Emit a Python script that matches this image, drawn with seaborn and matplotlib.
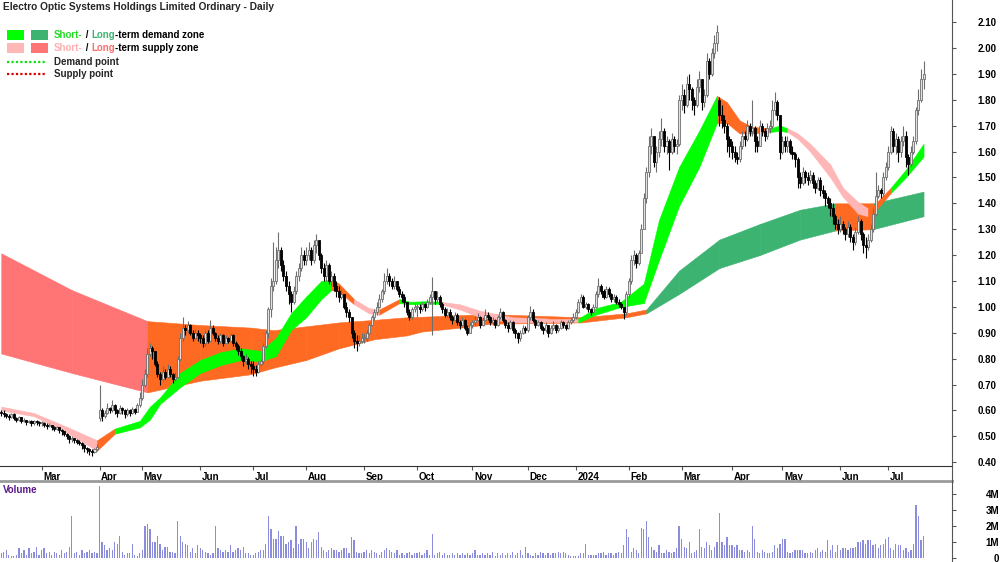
import numpy as np
import pandas as pd
import matplotlib
matplotlib.use("Agg")
import matplotlib.pyplot as plt
import matplotlib.transforms as mtrans
from matplotlib.patches import Rectangle
from matplotlib.lines import Line2D
import seaborn as sns

# ---------------------------------------------------------------- data
title = "Electro Optic Systems Holdings Limited Ordinary - Daily"
first_day, last_day = "2023-02-07", "2024-07-19"
asx_holidays = ["2023-04-07", "2023-04-10", "2023-04-25", "2023-06-12", "2023-12-25",
                "2023-12-26", "2024-01-01", "2024-01-26", "2024-03-29", "2024-04-01",
                "2024-04-25", "2024-06-10"]

first_open = 0.595
gap_opens = {"2023-04-03": 0.570, "2024-03-22": 1.800}

closes = [
    0.590, 0.585, 0.580, 0.575, 0.585, 0.570, 0.565, 0.575, 0.560, 0.565, 0.555, 0.560, 0.550, 0.560, 0.555, 0.550,
    0.550, 0.545, 0.540, 0.545, 0.535, 0.530, 0.535, 0.525, 0.520, 0.510, 0.500, 0.490, 0.495, 0.485, 0.480, 0.475, 0.465, 0.455, 0.450, 0.445, 0.440, 0.450, 0.460,
    0.600, 0.580, 0.590, 0.610, 0.600, 0.620, 0.600, 0.590, 0.610, 0.600, 0.585, 0.600, 0.590, 0.605, 0.595, 0.620, 0.650,
    0.700, 0.740, 0.820, 0.840, 0.830, 0.780, 0.740, 0.720, 0.750, 0.730, 0.760, 0.740, 0.720, 0.730, 0.800, 0.880, 0.920, 0.910, 0.930, 0.900, 0.880, 0.900, 0.890,
    0.880, 0.860, 0.900, 0.870, 0.920, 0.900, 0.880, 0.870, 0.890, 0.860, 0.880, 0.870, 0.890, 0.860, 0.850, 0.830, 0.810, 0.790, 0.800, 0.780, 0.770,
    0.760, 0.750, 0.780, 0.790, 0.850, 0.900, 0.990, 1.080, 1.100, 1.180, 1.220, 1.160, 1.120, 1.080, 1.050, 1.020, 1.060, 1.120, 1.150, 1.200, 1.180,
    1.200, 1.220, 1.180, 1.240, 1.260, 1.200, 1.150, 1.120, 1.160, 1.100, 1.120, 1.080, 1.060, 1.040, 1.050, 1.000, 0.980, 0.960, 0.900, 0.870, 0.860, 0.870, 0.880,
    0.880, 0.900, 0.930, 0.960, 0.980, 1.000, 1.030, 1.060, 1.100, 1.120, 1.100, 1.080, 1.100, 1.070, 1.050, 1.040, 1.020, 0.980, 0.960, 0.990, 1.000,
    1.000, 0.990, 1.010, 1.000, 1.020, 1.040, 1.060, 1.030, 1.040, 1.010, 0.990, 0.970, 0.980, 0.960, 0.950, 0.970, 0.940, 0.930, 0.950, 0.920, 0.900, 0.930,
    0.940, 0.950, 0.960, 0.930, 0.950, 0.970, 0.960, 0.940, 0.950, 0.930, 0.960, 0.980, 0.950, 0.930, 0.920, 0.940, 0.910, 0.900, 0.880, 0.900, 0.920, 0.910,
    0.960, 0.980, 0.950, 0.930, 0.940, 0.920, 0.910, 0.930, 0.900, 0.920, 0.930, 0.910, 0.920, 0.940, 0.930, 0.920, 0.940, 0.950, 0.960,
    0.980, 1.020, 1.040, 1.000, 1.010, 0.990, 0.980, 1.000, 1.050, 1.080, 1.060, 1.040, 1.070, 1.050, 1.030, 1.040, 1.020, 1.010, 1.000, 0.980, 1.050,
    1.100, 1.180, 1.200, 1.170, 1.210, 1.300, 1.420, 1.520, 1.620, 1.660, 1.560, 1.600, 1.650, 1.680, 1.620, 1.640, 1.600, 1.650, 1.620, 1.630, 1.800,
    1.820, 1.780, 1.860, 1.840, 1.800, 1.780, 1.850, 1.880, 1.790, 1.820, 1.950, 1.900, 1.980, 2.020, 2.060, 1.740, 1.720, 1.700, 1.650, 1.620,
    1.600, 1.580, 1.570, 1.620, 1.660, 1.650, 1.700, 1.680, 1.690, 1.640, 1.620, 1.700, 1.680, 1.660, 1.690, 1.700, 1.760, 1.790, 1.740, 1.600,
    1.640, 1.620, 1.640, 1.600, 1.590, 1.570, 1.500, 1.480, 1.520, 1.500, 1.490, 1.510, 1.480, 1.460, 1.490, 1.450, 1.440, 1.420, 1.400, 1.380, 1.350, 1.320, 1.300,
    1.320, 1.300, 1.280, 1.310, 1.270, 1.250, 1.290, 1.330, 1.280, 1.240, 1.230, 1.260, 1.300, 1.360, 1.430, 1.450, 1.440, 1.500, 1.540,
    1.600, 1.680, 1.620, 1.650, 1.600, 1.640, 1.660, 1.580, 1.550, 1.600, 1.640, 1.760, 1.800, 1.880, 1.900,
]
highs = [
    0.600, 0.600, 0.590, 0.585, 0.590, 0.590, 0.575, 0.580, 0.575, 0.570, 0.565, 0.565, 0.565, 0.565, 0.565, 0.560,
    0.560, 0.555, 0.550, 0.550, 0.545, 0.540, 0.540, 0.535, 0.530, 0.520, 0.515, 0.505, 0.500, 0.495, 0.490, 0.485, 0.480, 0.470, 0.460, 0.455, 0.450, 0.455, 0.470,
    0.700, 0.610, 0.600, 0.630, 0.615, 0.640, 0.625, 0.605, 0.620, 0.615, 0.605, 0.610, 0.605, 0.615, 0.610, 0.630, 0.670,
    0.720, 0.760, 0.840, 0.860, 0.850, 0.830, 0.790, 0.750, 0.770, 0.760, 0.780, 0.770, 0.745, 0.750, 0.810, 0.900, 0.960, 0.930, 0.945, 0.935, 0.910, 0.915, 0.910,
    0.900, 0.890, 0.910, 0.910, 0.950, 0.930, 0.905, 0.890, 0.900, 0.895, 0.890, 0.885, 0.900, 0.895, 0.870, 0.855, 0.840, 0.815, 0.820, 0.805, 0.790,
    0.790, 0.775, 0.790, 0.800, 0.860, 0.910, 1.000, 1.110, 1.250, 1.230, 1.290, 1.230, 1.180, 1.140, 1.100, 1.060, 1.080, 1.140, 1.170, 1.230, 1.220,
    1.230, 1.250, 1.230, 1.260, 1.280, 1.250, 1.210, 1.170, 1.180, 1.170, 1.140, 1.130, 1.100, 1.080, 1.070, 1.050, 1.020, 0.990, 0.960, 0.910, 0.890, 0.890, 0.900,
    0.900, 0.910, 0.940, 0.970, 0.990, 1.020, 1.050, 1.070, 1.130, 1.150, 1.130, 1.110, 1.120, 1.100, 1.080, 1.060, 1.050, 1.020, 0.990, 1.000, 1.010,
    1.010, 1.010, 1.020, 1.015, 1.030, 1.050, 1.115, 1.060, 1.060, 1.045, 1.020, 1.000, 0.995, 0.990, 0.970, 0.980, 0.975, 0.950, 0.960, 0.955, 0.930, 0.940,
    0.950, 0.965, 0.975, 0.965, 0.960, 0.990, 0.980, 0.965, 0.960, 0.955, 0.970, 0.995, 0.985, 0.955, 0.940, 0.950, 0.945, 0.920, 0.905, 0.910, 0.930, 0.925,
    0.970, 1.005, 0.990, 0.955, 0.950, 0.945, 0.925, 0.940, 0.930, 0.930, 0.945, 0.935, 0.930, 0.950, 0.945, 0.935, 0.950, 0.960, 0.975,
    0.990, 1.030, 1.050, 1.045, 1.020, 1.015, 0.995, 1.010, 1.060, 1.110, 1.090, 1.070, 1.080, 1.075, 1.055, 1.050, 1.045, 1.030, 1.020, 1.000, 1.060,
    1.110, 1.200, 1.220, 1.210, 1.220, 1.320, 1.440, 1.540, 1.660, 1.690, 1.650, 1.620, 1.680, 1.730, 1.690, 1.660, 1.650, 1.670, 1.660, 1.650, 1.820,
    1.860, 1.840, 1.890, 1.900, 1.850, 1.810, 1.880, 1.910, 1.880, 1.840, 1.980, 1.960, 2.000, 2.050, 2.090, 1.810, 1.780, 1.740, 1.710, 1.660,
    1.640, 1.620, 1.600, 1.640, 1.680, 1.680, 1.720, 1.710, 1.800, 1.700, 1.660, 1.720, 1.710, 1.690, 1.710, 1.720, 1.800, 1.830, 1.800, 1.740,
    1.660, 1.660, 1.660, 1.650, 1.620, 1.600, 1.580, 1.520, 1.540, 1.530, 1.520, 1.530, 1.520, 1.490, 1.500, 1.500, 1.470, 1.450, 1.430, 1.420, 1.400, 1.360, 1.340,
    1.350, 1.330, 1.310, 1.330, 1.320, 1.280, 1.310, 1.350, 1.340, 1.290, 1.270, 1.280, 1.320, 1.380, 1.520, 1.470, 1.460, 1.520, 1.560,
    1.620, 1.700, 1.690, 1.670, 1.660, 1.660, 1.700, 1.680, 1.590, 1.620, 1.660, 1.770, 1.840, 1.920, 1.950,
]
lows = [
    0.580, 0.575, 0.570, 0.565, 0.570, 0.565, 0.555, 0.560, 0.550, 0.555, 0.545, 0.550, 0.540, 0.545, 0.545, 0.540,
    0.540, 0.535, 0.530, 0.535, 0.525, 0.520, 0.525, 0.515, 0.505, 0.500, 0.490, 0.475, 0.480, 0.475, 0.470, 0.465, 0.450, 0.440, 0.435, 0.430, 0.425, 0.435, 0.445,
    0.560, 0.560, 0.570, 0.585, 0.590, 0.595, 0.585, 0.575, 0.585, 0.585, 0.570, 0.580, 0.580, 0.585, 0.585, 0.595, 0.615,
    0.640, 0.690, 0.730, 0.810, 0.800, 0.770, 0.730, 0.700, 0.715, 0.720, 0.725, 0.730, 0.705, 0.715, 0.725, 0.790, 0.870, 0.890, 0.900, 0.890, 0.870, 0.875, 0.870,
    0.860, 0.845, 0.850, 0.860, 0.865, 0.890, 0.870, 0.855, 0.860, 0.850, 0.855, 0.860, 0.865, 0.850, 0.835, 0.815, 0.795, 0.770, 0.780, 0.760, 0.745,
    0.735, 0.735, 0.745, 0.770, 0.780, 0.840, 0.880, 0.960, 1.060, 1.090, 1.150, 1.140, 1.100, 1.060, 1.010, 0.980, 1.010, 1.050, 1.100, 1.140, 1.160,
    1.160, 1.180, 1.160, 1.170, 1.210, 1.180, 1.130, 1.100, 1.100, 1.090, 1.080, 1.060, 1.040, 1.020, 1.030, 0.990, 0.960, 0.940, 0.880, 0.840, 0.830, 0.850, 0.860,
    0.860, 0.870, 0.895, 0.925, 0.950, 0.970, 0.995, 1.020, 1.050, 1.090, 1.080, 1.070, 1.070, 1.060, 1.040, 1.020, 1.000, 0.970, 0.950, 0.955, 0.980,
    0.960, 0.975, 0.985, 0.985, 0.995, 1.010, 0.890, 1.010, 1.020, 1.000, 0.975, 0.960, 0.960, 0.950, 0.935, 0.945, 0.930, 0.915, 0.925, 0.910, 0.890, 0.900,
    0.920, 0.930, 0.945, 0.920, 0.925, 0.945, 0.950, 0.930, 0.930, 0.920, 0.925, 0.955, 0.940, 0.920, 0.905, 0.915, 0.900, 0.880, 0.860, 0.870, 0.895, 0.900,
    0.905, 0.950, 0.940, 0.920, 0.925, 0.910, 0.895, 0.905, 0.885, 0.895, 0.910, 0.900, 0.905, 0.915, 0.920, 0.910, 0.915, 0.935, 0.940,
    0.955, 0.975, 1.010, 0.995, 0.990, 0.980, 0.970, 0.975, 0.995, 1.040, 1.050, 1.030, 1.035, 1.040, 1.020, 1.020, 1.010, 1.000, 0.990, 0.955, 0.970,
    1.040, 1.090, 1.160, 1.150, 1.160, 1.220, 1.300, 1.400, 1.500, 1.590, 1.540, 1.520, 1.580, 1.620, 1.600, 1.590, 1.530, 1.590, 1.600, 1.590, 1.620,
    1.760, 1.750, 1.770, 1.800, 1.760, 1.740, 1.770, 1.830, 1.760, 1.770, 1.810, 1.880, 1.890, 1.960, 1.990, 1.700, 1.690, 1.670, 1.600, 1.580,
    1.570, 1.560, 1.550, 1.560, 1.610, 1.620, 1.640, 1.660, 1.660, 1.600, 1.600, 1.620, 1.660, 1.640, 1.650, 1.670, 1.690, 1.740, 1.720, 1.570,
    1.590, 1.600, 1.600, 1.590, 1.570, 1.540, 1.460, 1.460, 1.470, 1.480, 1.470, 1.480, 1.460, 1.440, 1.450, 1.430, 1.420, 1.390, 1.380, 1.350, 1.320, 1.300, 1.280,
    1.290, 1.280, 1.260, 1.270, 1.250, 1.220, 1.240, 1.280, 1.260, 1.210, 1.190, 1.220, 1.250, 1.290, 1.350, 1.420, 1.420, 1.430, 1.490,
    1.530, 1.590, 1.600, 1.590, 1.560, 1.580, 1.620, 1.540, 1.510, 1.540, 1.590, 1.630, 1.740, 1.790, 1.840,
]
volume_m = [
    0.3, 0.4, 0.5, 0.2, 0.1, 0.15, 0.2, 0.6, 0.3, 0.5, 0.2, 0.6, 0.3, 0.4, 0.7, 0.2,
    0.5, 0.6, 0.3, 0.4, 0.2, 0.4, 0.3, 0.2, 0.5, 0.3, 0.4, 0.7, 2.6, 0.3, 0.4, 0.2, 0.5, 0.3, 0.4, 0.5, 0.3, 0.4, 0.3,
    4.5, 1.0, 0.8, 0.5, 0.6, 0.5, 1.0, 0.9, 1.4, 0.4, 0.2, 0.3, 0.3, 0.9, 0.2, 0.1, 0.3,
    0.5, 2.0, 2.1, 1.8, 1.0, 1.0, 1.4, 0.9, 0.5, 0.7, 0.7, 0.4, 0.4, 0.3, 2.3, 1.4, 1.0, 0.9, 0.8, 0.4, 0.6, 0.3, 0.8,
    0.6, 0.5, 0.4, 0.3, 0.2, 0.3, 2.0, 0.6, 0.5, 0.4, 0.5, 0.4, 0.8, 0.4, 0.5, 0.6, 0.5, 0.7, 0.3, 0.3, 0.2,
    0.2, 0.3, 0.4, 0.5, 0.5, 0.9, 2.6, 1.8, 1.2, 1.2, 1.7, 1.4, 1.4, 0.9, 1.0, 1.1, 0.6, 2.0, 0.9, 1.2, 1.2,
    1.0, 0.6, 1.0, 1.2, 1.1, 1.6, 0.7, 0.5, 0.4, 0.5, 0.6, 0.5, 0.5, 0.4, 0.5, 0.6, 0.6, 0.3, 1.3, 1.1, 0.4, 0.3, 0.3,
    0.4, 0.5, 0.3, 0.5, 0.4, 0.3, 0.2, 0.4, 0.5, 0.6, 0.5, 0.4, 0.3, 0.5, 0.2, 0.3, 0.2, 0.3, 0.4, 0.2, 0.3,
    0.3, 0.4, 0.2, 0.3, 0.5, 0.2, 1.5, 0.2, 0.3, 0.4, 0.2, 0.3, 0.2, 0.2, 0.3, 0.2, 0.3, 0.2, 0.3, 0.2, 0.3, 0.2,
    0.3, 0.5, 0.2, 0.2, 0.3, 0.2, 0.3, 0.2, 0.4, 0.1, 0.3, 0.2, 0.3, 0.2, 0.3, 0.2, 0.4, 0.2, 0.3, 0.5, 0.2, 0.7,
    0.3, 0.2, 0.1, 0.3, 0.2, 0.4, 0.3, 0.2, 0.3, 0.2, 0.3, 0.3, 0.4, 0.3, 0.4, 0.3, 0.2, 0.1, 0.1,
    0.1, 0.1, 0.3, 0.3, 0.9, 0.2, 0.2, 0.2, 0.2, 0.3, 0.3, 0.4, 0.2, 0.3, 0.3, 0.2, 0.3, 0.4, 0.3, 0.8, 1.8,
    1.3, 0.4, 0.6, 0.5, 0.3, 1.9, 1.8, 2.3, 1.3, 0.7, 0.5, 0.4, 0.8, 0.3, 0.3, 0.5, 0.4, 0.3, 0.4, 0.6, 2.0,
    1.2, 0.7, 0.6, 1.0, 0.3, 0.4, 0.5, 1.8, 0.7, 0.6, 1.0, 0.8, 0.5, 0.7, 1.0, 2.8, 1.0, 0.8, 1.3, 0.8,
    0.8, 0.7, 0.8, 0.5, 0.5, 0.4, 0.5, 0.4, 2.0, 1.2, 0.4, 0.3, 0.5, 0.4, 0.3, 0.3, 0.4, 0.8, 0.6, 0.9,
    1.2, 1.2, 0.4, 0.3, 0.4, 0.5, 0.5, 0.5, 0.5, 0.3, 0.3, 0.4, 0.3, 0.5, 0.6, 0.4, 0.5, 0.4, 1.1, 0.5, 0.8, 0.4, 0.8,
    0.5, 0.6, 0.6, 0.5, 0.6, 0.6, 0.7, 1.0, 1.0, 1.1, 0.9, 1.1, 1.1, 0.8, 0.9, 0.6, 0.8, 0.9, 1.2,
    1.3, 0.6, 0.5, 0.9, 0.8, 0.8, 0.5, 0.6, 0.4, 0.5, 0.9, 3.3, 2.6, 1.1, 1.4,
]

# short-term zone (trading-day number, upper edge, lower edge, state D=demand S=supply M=mixed)
short_day = [0, 13, 26, 38, 45, 55, 59, 63, 71, 79, 87, 95, 103, 109, 115, 121, 127, 131, 134, 140,
             146, 150, 158, 162, 169, 174, 182, 190, 203, 217, 229, 236, 246, 255, 261, 269, 277, 284,
             288, 293, 298, 305, 309, 312, 316, 321, 329, 334, 340, 344, 346, 353, 359, 366]
short_top = [0.615, 0.590, 0.537, 0.485, 0.530, 0.560, 0.615, 0.650, 0.745, 0.795, 0.825, 0.840, 0.830,
             0.880, 0.975, 1.040, 1.100, 1.105, 1.090, 1.030, 0.995, 0.990, 1.030, 1.020, 1.022, 1.020,
             1.010, 0.985, 0.960, 0.955, 0.955, 0.995, 1.020, 1.090, 1.335, 1.540, 1.680, 1.815, 1.790,
             1.720, 1.695, 1.690, 1.700, 1.690, 1.670, 1.630, 1.550, 1.460, 1.405, 1.380, 1.390, 1.460,
             1.530, 1.630]
short_bot = [0.600, 0.578, 0.514, 0.445, 0.510, 0.535, 0.565, 0.625, 0.690, 0.745, 0.775, 0.795, 0.790,
             0.810, 0.910, 0.960, 1.030, 1.065, 1.060, 1.010, 0.975, 0.970, 1.015, 1.010, 1.012, 1.012,
             0.990, 0.960, 0.940, 0.940, 0.940, 0.970, 1.000, 1.015, 1.180, 1.390, 1.540, 1.710, 1.710,
             1.670, 1.670, 1.675, 1.680, 1.675, 1.650, 1.600, 1.500, 1.425, 1.360, 1.350, 1.360, 1.440,
             1.500, 1.580]
short_state = list("SSSMDDDDDDDDDDDDDMMSSMDDDSSSSSDDDDDDDMMMMDDSSSSSSMMDDD")

# long-term zone
long_day = [0, 28, 58, 79, 99, 108, 121, 134, 148, 161, 167, 187, 194, 230, 248, 256, 269, 285, 301,
            317, 331, 346, 366]
long_top = [1.207, 1.065, 0.945, 0.930, 0.920, 0.910, 0.925, 0.940, 0.950, 0.960, 0.962, 0.970, 0.972,
            0.960, 0.975, 0.990, 1.140, 1.260, 1.320, 1.375, 1.400, 1.400, 1.445]
long_bot = [0.820, 0.745, 0.670, 0.715, 0.740, 0.765, 0.795, 0.840, 0.875, 0.890, 0.905, 0.925, 0.935,
            0.940, 0.960, 0.975, 1.050, 1.150, 1.200, 1.260, 1.295, 1.300, 1.350]
long_state = list("SSMMMMMMMMMMMMMDDDDDMDD")

price_ticks = [0.40, 0.50, 0.60, 0.70, 0.80, 0.90, 1.00, 1.10, 1.20, 1.30, 1.40, 1.50, 1.60, 1.70,
               1.80, 1.90, 2.00, 2.10]
volume_ticks = [0, 1, 2, 3, 4]
volume_tick_labels = ["0", "1M", "2M", "3M", "4M"]

# ---------------------------------------------------------------- styles
C_SHORT = {"D": "#00FF00", "S": "#FFB6B6", "M": "#FF6A22"}
C_LONG = {"D": "#3CB371", "S": "#FF7575", "M": "#FF6A22"}
VOL_COLOR = "#8C8CDC"
AX_GREY = "#555555"

sns.set_theme(style="white")
plt.rcParams["font.family"] = ["Liberation Sans", "DejaVu Sans"]
FS = 7

W, H = 1000, 562
fig = plt.figure(figsize=(W / 100, H / 100), dpi=100)
fig.patch.set_facecolor("white")
ax = fig.add_axes([0, 1 - 466 / H, 952 / W, 466 / H])
axv = fig.add_axes([0, 0, 952 / W, (H - 481) / H])

dates = pd.bdate_range(first_day, last_day, freq="C", holidays=asx_holidays)
n = len(dates)
day = np.arange(n)
c = np.array(closes)
hi = np.array(highs)
lo = np.array(lows)
o = np.r_[first_open, c[:-1]]
for d, v in gap_opens.items():
    o[dates.get_loc(pd.Timestamp(d))] = v

# ---------------------------------------------------------------- zones
def draw_zone(days, top, bot, states, pal, z):
    for i in range(len(days) - 1):
        col = pal[states[i]]
        ax.fill_between(days[i:i + 2], top[i:i + 2], bot[i:i + 2], facecolor=col,
                        edgecolor=col, linewidth=0.4, zorder=z)

draw_zone(long_day, long_top, long_bot, long_state, C_LONG, 1)
draw_zone(short_day, short_top, short_bot, short_state, C_SHORT, 2)

# ---------------------------------------------------------------- candles
up = c >= o
body_lo = np.minimum(o, c)
body_h = np.maximum(np.abs(c - o), 0.005)
ax.vlines(day[up], lo[up], hi[up], color="#6e6e6e", linewidth=0.8, zorder=3)
ax.vlines(day[~up], lo[~up], hi[~up], color="#000000", linewidth=0.8, zorder=3)
ax.bar(day[up], body_h[up], bottom=body_lo[up], width=0.8, color="#e2e2e2",
       edgecolor="#6e6e6e", linewidth=0.6, zorder=4)
ax.bar(day[~up], body_h[~up], bottom=body_lo[~up], width=0.8, color="#000000",
       edgecolor="#000000", linewidth=0.6, zorder=4)

# ---------------------------------------------------------------- volume (seaborn)
vol_df = pd.DataFrame({"day": day, "volume": volume_m})
sns.barplot(data=vol_df, x="day", y="volume", native_scale=True, width=0.5,
            color=VOL_COLOR, saturation=1, errorbar=None, linewidth=0, ax=axv)

# ---------------------------------------------------------------- axes styling
xlim = (-0.5, 377.3)
ax.set_xlim(*xlim)
ax.set_ylim(0.3857, 2.185)
axv.set_xlim(*xlim)
axv.set_ylim(-0.25, 4.81)
for a in (ax, axv):
    a.set_facecolor("white")
    a.set_xlabel("")
    a.set_ylabel("")
    a.grid(False)
    for s in ("top", "left", "bottom", "right"):
        a.spines[s].set_visible(False)
ax.spines["right"].set_visible(True)
ax.spines["right"].set_color(AX_GREY)
ax.spines["right"].set_linewidth(0.8)
ax.spines["bottom"].set_visible(True)
ax.spines["bottom"].set_color("#333333")
ax.spines["bottom"].set_linewidth(0.8)
axv.spines["right"].set_visible(True)
axv.spines["right"].set_color(AX_GREY)
axv.spines["right"].set_linewidth(0.8)
axv.spines["top"].set_visible(True)
axv.spines["top"].set_color("#9a9a9a")
axv.spines["top"].set_linewidth(2.0)

# month ticks
month_pos, month_lab = [], []
prev = dates[0].month
for i, d in enumerate(dates):
    if d.month != prev:
        month_pos.append(i)
        month_lab.append(str(d.year) if d.month == 1 else d.strftime("%b"))
        prev = d.month
ax.set_xticks(month_pos)
ax.set_xticklabels(month_lab, ha="left", fontweight="bold", fontsize=FS, color="black")
ax.tick_params(axis="x", bottom=True, top=False, length=3, width=0.8, color=AX_GREY,
               direction="out", pad=1)
shift = mtrans.ScaledTranslation(1.5 / 100, 0, fig.dpi_scale_trans)
for lab in ax.get_xticklabels():
    lab.set_transform(lab.get_transform() + shift)

ax.yaxis.tick_right()
ax.set_yticks(price_ticks)
ax.set_yticklabels([f"{v:.2f}" for v in price_ticks], ha="right", fontweight="bold",
                   fontsize=FS, color="black")
ax.tick_params(axis="y", right=True, left=False, labelright=True, labelleft=False, length=3,
               width=0.8, color=AX_GREY, direction="out", pad=28.8)

axv.set_xticks([])
axv.tick_params(axis="x", bottom=False, labelbottom=False)
axv.yaxis.tick_right()
axv.set_yticks(volume_ticks)
axv.set_yticklabels(volume_tick_labels, ha="right", fontweight="bold", fontsize=FS, color="black")
axv.tick_params(axis="y", right=True, left=False, labelright=True, labelleft=False, length=3,
                width=0.8, color=AX_GREY, direction="out", pad=31)

fig.add_artist(Line2D([952 / W, 952 / W], [1 - 482 / H, 1 - 466 / H], color=AX_GREY,
                      linewidth=0.8, transform=fig.transFigure))

# ---------------------------------------------------------------- title, legend, labels
def fx(px):
    return px / W

def fy(py):
    return 1 - py / H

fig.text(fx(3), fy(7), title, fontsize=7.3, fontweight="bold", va="center", ha="left")
axv.text(fx(3) * W / 952, 1 - 9 / (H - 481), "Volume", transform=axv.transAxes, fontsize=FS,
         fontweight="bold", color="#5a1a8c", va="center", ha="left")

renderer = fig.canvas.get_renderer()

def rich(x_px, y_px, parts):
    x = x_px
    for txt, col in parts:
        t = fig.text(fx(x), fy(y_px), txt, color=col, fontsize=FS, fontweight="bold",
                     va="center", ha="left")
        x += t.get_window_extent(renderer).width

for (y0, c1, c2) in [(30, C_SHORT["D"], C_LONG["D"]), (43, C_SHORT["S"], C_LONG["S"])]:
    fig.add_artist(Rectangle((fx(7), fy(y0 + 10)), 17 / W, 10 / H, facecolor=c1,
                             edgecolor="none", transform=fig.transFigure))
    fig.add_artist(Rectangle((fx(31), fy(y0 + 10)), 17 / W, 10 / H, facecolor=c2,
                             edgecolor="none", transform=fig.transFigure))

rich(54, 35, [("Short-", "#22DD22"), (" / ", "black"), ("Long", "#3CB371"),
              ("-term demand zone", "black")])
rich(54, 48, [("Short-", "#FFB0B0"), (" / ", "black"), ("Long", "#FF6F6F"),
              ("-term supply zone", "black")])
for y0, col, lab in [(62, "#11DD11", "Demand point"), (74, "#DD0000", "Supply point")]:
    fig.add_artist(Line2D([fx(7), fx(45)], [fy(y0), fy(y0)], color=col, linewidth=1.6,
                          linestyle=(0, (1, 1)), transform=fig.transFigure))
    fig.text(fx(54), fy(y0), lab, fontsize=FS, fontweight="bold", va="center", ha="left")

fig.savefig("out.png", dpi=100, facecolor="white")
